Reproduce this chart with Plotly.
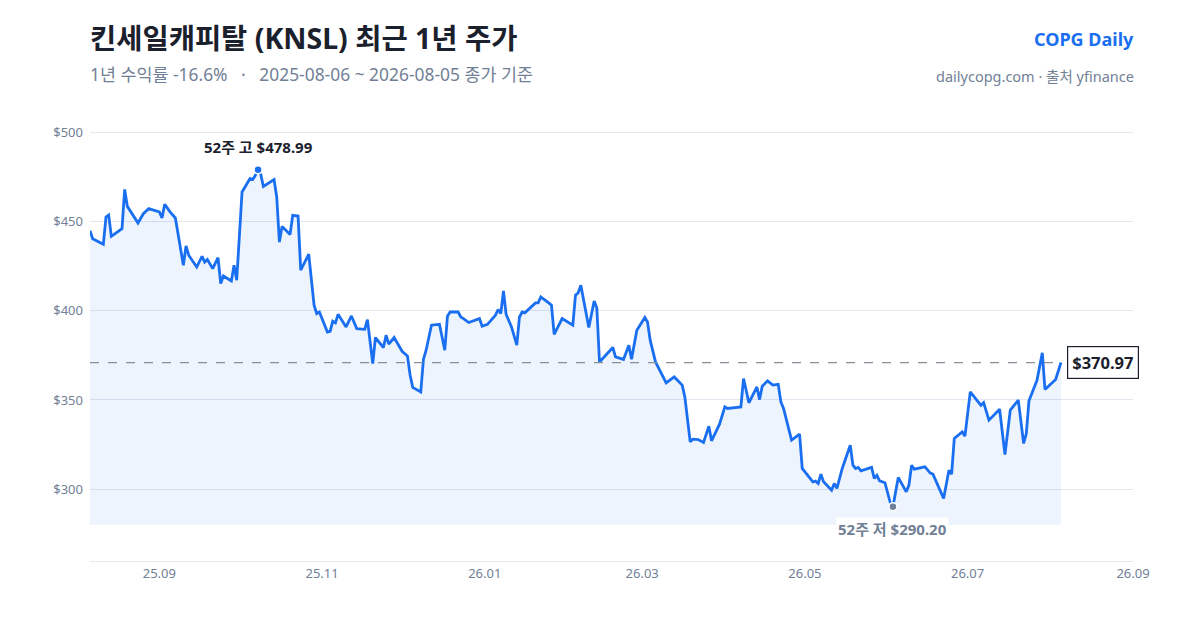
import plotly.graph_objects as go

dates = [
    "2025-08-06","2025-08-07","2025-08-11","2025-08-12","2025-08-13","2025-08-14","2025-08-18","2025-08-19",
    "2025-08-20","2025-08-24","2025-08-26","2025-08-28","2025-09-01","2025-09-02","2025-09-03","2025-09-05",
    "2025-09-07","2025-09-08","2025-09-10","2025-09-11","2025-09-12","2025-09-15","2025-09-17","2025-09-18",
    "2025-09-19","2025-09-21","2025-09-23","2025-09-24","2025-09-25","2025-09-28","2025-09-29","2025-09-30",
    "2025-10-02","2025-10-05","2025-10-06","2025-10-07","2025-10-08","2025-10-09","2025-10-10","2025-10-14",
    "2025-10-15","2025-10-16","2025-10-17","2025-10-20","2025-10-21","2025-10-23","2025-10-24","2025-10-27",
    "2025-10-29","2025-10-30","2025-10-31","2025-11-03","2025-11-04","2025-11-05","2025-11-06","2025-11-07",
    "2025-11-10","2025-11-12","2025-11-14","2025-11-17","2025-11-18","2025-11-20","2025-11-21","2025-11-24",
    "2025-11-25","2025-11-26","2025-11-28","2025-12-01","2025-12-03","2025-12-04","2025-12-05","2025-12-08",
    "2025-12-09","2025-12-10","2025-12-12","2025-12-15","2025-12-17","2025-12-18","2025-12-19","2025-12-22",
    "2025-12-23","2025-12-24","2025-12-26","2025-12-30","2025-12-31","2026-01-02","2026-01-05","2026-01-06",
    "2026-01-07","2026-01-08","2026-01-09","2026-01-11","2026-01-13","2026-01-14","2026-01-15","2026-01-16",
    "2026-01-20","2026-01-21","2026-01-22","2026-01-24","2026-01-26","2026-01-27","2026-01-30","2026-02-03",
    "2026-02-04","2026-02-05","2026-02-06","2026-02-09","2026-02-11","2026-02-12","2026-02-13","2026-02-18",
    "2026-02-19","2026-02-22","2026-02-24","2026-02-25","2026-02-27","2026-03-02","2026-03-03","2026-03-04",
    "2026-03-06","2026-03-10","2026-03-13","2026-03-16","2026-03-17","2026-03-19","2026-03-20","2026-03-22",
    "2026-03-24","2026-03-26","2026-03-27","2026-03-30","2026-04-01","2026-04-02","2026-04-07","2026-04-08",
    "2026-04-10","2026-04-13","2026-04-14","2026-04-15","2026-04-17","2026-04-19","2026-04-21","2026-04-22",
    "2026-04-23","2026-04-26","2026-04-29","2026-04-30","2026-05-04","2026-05-05","2026-05-06","2026-05-07",
    "2026-05-08","2026-05-11","2026-05-12","2026-05-13","2026-05-14","2026-05-15","2026-05-18","2026-05-19",
    "2026-05-20","2026-05-21","2026-05-22","2026-05-26","2026-05-27","2026-05-28","2026-05-29","2026-05-31",
    "2026-06-02","2026-06-03","2026-06-05","2026-06-08","2026-06-09","2026-06-10","2026-06-11","2026-06-15",
    "2026-06-17","2026-06-18","2026-06-22","2026-06-24","2026-06-25","2026-06-26","2026-06-29","2026-06-30",
    "2026-07-02","2026-07-06","2026-07-07","2026-07-09","2026-07-13","2026-07-15","2026-07-17","2026-07-20",
    "2026-07-22","2026-07-23","2026-07-24","2026-07-27","2026-07-29","2026-07-30","2026-08-03","2026-08-05",
]

close = [
    444.8, 440.4, 437.3, 452.6, 453.7, 441.7, 446.0, 468.0,
    458.5, 449.2, 454.4, 457.2, 455.4, 452.0, 459.7, 455.4,
    452.0, 443.2, 425.5, 436.3, 431.1, 424.5, 430.5, 427.3,
    428.7, 423.6, 429.8, 415.2, 419.5, 416.7, 425.5, 417.1,
    466.6, 474.1, 473.5, 475.9, 478.99, 476.5, 469.7, 473.5,
    463.8, 438.5, 447.3, 442.7, 453.5, 453.1, 422.7, 431.7,
    403.1, 398.4, 399.3, 388.1, 388.5, 394.1, 393.2, 398.0,
    390.9, 397.1, 390.0, 389.6, 395.0, 370.4, 385.0, 379.4,
    386.3, 381.3, 385.0, 377.3, 374.7, 364.0, 357.0, 354.5,
    372.7, 377.9, 391.9, 392.4, 377.9, 396.9, 399.3, 399.3,
    396.5, 395.6, 393.4, 395.6, 391.3, 392.4, 397.5, 400.7,
    398.4, 411.1, 397.9, 390.9, 380.7, 396.5, 399.3, 398.8,
    404.4, 404.4, 407.7, 405.5, 403.1, 386.8, 395.6, 391.9,
    408.7, 410.0, 414.3, 390.6, 405.5, 401.5, 371.3, 379.4,
    374.1, 372.7, 380.7, 372.8, 389.1, 396.2, 393.7, 383.5,
    371.3, 359.6, 362.9, 358.3, 351.7, 326.5, 328.0, 327.8,
    326.2, 335.3, 327.1, 336.4, 346.1, 345.2, 346.1, 362.0,
    348.4, 357.3, 350.2, 357.7, 360.7, 358.3, 358.8, 348.9,
    345.2, 327.5, 330.8, 311.6, 304.1, 304.5, 303.2, 308.4,
    304.1, 299.4, 303.2, 300.4, 305.4, 311.6, 324.6, 313.4,
    311.6, 312.2, 310.3, 312.2, 306.0, 307.8, 304.7, 303.6,
    292.5, 290.2, 306.6, 298.5, 302.3, 313.4, 311.2, 312.5,
    309.0, 308.4, 294.8, 310.6, 308.4, 328.4, 332.1, 329.7,
    354.5, 347.0, 348.5, 338.7, 344.8, 319.4, 344.3, 349.9,
    325.6, 331.2, 349.5, 361.0, 376.4, 355.9, 361.5, 370.97,
]

title_text = "킨세일캐피탈 (KNSL) 최근 1년 주가"
subtitle_text = "1년 수익률 -16.6%   ·   2025-08-06 ~ 2026-08-05 종가 기준"
brand_text = "COPG Daily"
source_text = "dailycopg.com · 출처 yfinance"
y_ticks = [300, 350, 400, 450, 500]
y_tick_labels = ["$300", "$350", "$400", "$450", "$500"]
x_range = ["2025-08-06", "2026-09-01"]

FONT = "Noto Sans, Noto Sans CJK KR, sans-serif"
BLUE = "#1a6ff0"
GRAY = "#718096"
DARK = "#1a202c"

hi = max(close)
lo = min(close)
hi_i = close.index(hi)
lo_i = close.index(lo)
last = close[-1]
base = lo * 0.965
y_range = [lo * 0.895, hi * 1.07]

fig = go.Figure()
fig.add_trace(go.Scatter(x=dates, y=[base] * len(dates), mode="lines",
                         line=dict(width=0), hoverinfo="skip", showlegend=False))
fig.add_trace(go.Scatter(x=dates, y=close, mode="lines", fill="tonexty",
                         fillcolor="rgba(26,111,240,0.08)",
                         line=dict(color=BLUE, width=2.8), showlegend=False))
fig.add_trace(go.Scatter(x=[dates[0], dates[-1]], y=[last, last], mode="lines",
                         line=dict(color="#8a8f98", width=1.2, dash="dash"),
                         hoverinfo="skip", showlegend=False))
fig.add_trace(go.Scatter(x=[dates[hi_i]], y=[hi], mode="markers",
                         marker=dict(color=BLUE, size=8, line=dict(color="white", width=1.5)),
                         showlegend=False))
fig.add_trace(go.Scatter(x=[dates[lo_i]], y=[lo], mode="markers",
                         marker=dict(color=GRAY, size=8, line=dict(color="white", width=1.5)),
                         showlegend=False))

fig.add_annotation(x=dates[hi_i], y=hi, text=f"<b>52주 고 ${hi:.2f}</b>", showarrow=False,
                   yshift=23, font=dict(size=15, color=DARK, family=FONT))
fig.add_annotation(x=dates[lo_i], y=lo, text=f"<b>52주 저 ${lo:.2f}</b>", showarrow=False,
                   yshift=-22, bgcolor="white",
                   font=dict(size=15, color=GRAY, family=FONT))
fig.add_annotation(x=dates[-1], y=last, text=f"<b>${last:.2f}</b>", showarrow=False,
                   xanchor="left", xshift=6, bgcolor="white", bordercolor=DARK,
                   borderwidth=1.2, borderpad=4,
                   font=dict(size=16.5, color=DARK, family=FONT))

fig.add_annotation(xref="paper", yref="paper", x=0, y=1, xanchor="left", yanchor="bottom",
                   text=f"<b>{title_text}</b>", showarrow=False, yshift=51, xshift=-2,
                   font=dict(size=28.5, color=DARK, family=FONT))
fig.add_annotation(xref="paper", yref="paper", x=0, y=1, xanchor="left", yanchor="bottom",
                   text=subtitle_text, showarrow=False, yshift=22, xshift=-2,
                   font=dict(size=17.4, color=GRAY, family=FONT))
fig.add_annotation(xref="paper", yref="paper", x=1, y=1, xanchor="right", yanchor="bottom",
                   text=f"<b>{brand_text}</b>", showarrow=False, yshift=57, xshift=3,
                   font=dict(size=18, color=BLUE, family=FONT))
fig.add_annotation(xref="paper", yref="paper", x=1, y=1, xanchor="right", yanchor="bottom",
                   text=source_text, showarrow=False, yshift=22, xshift=3,
                   font=dict(size=14.5, color=GRAY, family=FONT))

fig.update_layout(
    width=1200, height=630,
    margin=dict(l=90, r=67, t=110, b=69),
    paper_bgcolor="white", plot_bgcolor="white",
    font=dict(family=FONT, color=GRAY),
    hovermode=False,
)
fig.update_xaxes(range=x_range, type="date", tick0="2025-09-01", dtick="M2",
                 tickformat="%y.%m", showgrid=False, showline=True, linecolor="#e2e8f0",
                 linewidth=1, ticks="", tickfont=dict(size=13, color=GRAY, family=FONT),
                 zeroline=False)
fig.update_yaxes(range=y_range, tickvals=y_ticks, ticktext=y_tick_labels,
                 showgrid=True, gridcolor="#e2e8f0", gridwidth=1, zeroline=False,
                 ticks="", tickfont=dict(size=13, color=GRAY, family=FONT), ticklabelstandoff=6)

fig.write_html("out.html", config={"displayModeBar": False},
               post_script="document.body.style.margin='0';")
